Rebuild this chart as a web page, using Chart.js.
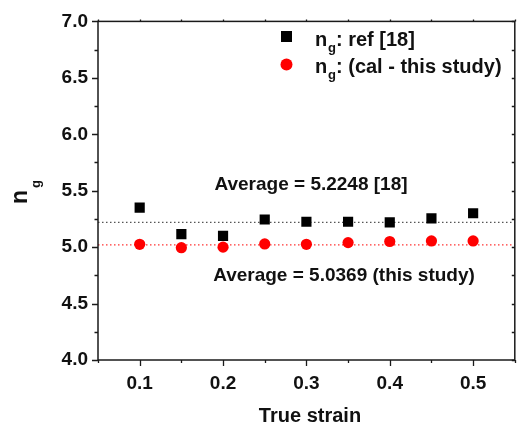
<!DOCTYPE html>
<html>
<head>
<meta charset="utf-8">
<script src="https://cdn.jsdelivr.net/npm/chart.js@4"></script>
<style>
  html,body{margin:0;padding:0;background:#fff;}
  #myChart{display:block;}
</style>
</head>
<body>
<canvas id="myChart" width="522" height="431"></canvas>
<script>
// values
var strain = [0.1, 0.15, 0.2, 0.25, 0.3, 0.35, 0.4, 0.45, 0.5];
var ngRef = [5.35, 5.115, 5.10, 5.245, 5.225, 5.225, 5.22, 5.255, 5.30];
var ngCal = [5.025, 4.995, 5.0, 5.028, 5.025, 5.04, 5.05, 5.055, 5.055];
var avgRef = 5.22;   // dotted line, labelled 5.2248
var avgCal = 5.02;   // dotted line, labelled 5.0369

var xTicks = [0.1, 0.2, 0.3, 0.4, 0.5];
var xMinor = [0.05, 0.15, 0.25, 0.35, 0.45, 0.55];
var yTicks = [4.0, 4.5, 5.0, 5.5, 6.0, 6.5, 7.0];
var yMinor = [4.25, 4.75, 5.25, 5.75, 6.25, 6.75];
var xRange = [0.05, 0.55];
var yRange = [4.0, 7.0];

var legendLabels = [": ref [18]", ": (cal - this study)"];
var noteRef = "Average = 5.2248 [18]";
var noteCal = "Average = 5.0369 (this study)";
var xTitle = "True strain";

var FONT = "'Liberation Sans', Arial, sans-serif";

function toPts(xs, ys){
  var out = [];
  for(var i=0; i<xs.length; i++){
    out.push({x: xs[i], y: ys[i]});
  }
  return out;
}

// frame, tick marks and all the extra text (subscripts)
var decor = {
  id: 'decor',
  afterDraw: function(chart){
    var c = chart.ctx;
    var a = chart.chartArea;
    var xs = chart.scales.x, ys = chart.scales.y;
    c.save();
    c.strokeStyle = '#1a1a1a';
    c.lineWidth = 1.5;
    c.strokeRect(a.left, a.top, a.right - a.left, a.bottom - a.top);

    c.lineWidth = 1.3;
    c.beginPath();
    xTicks.forEach(function(v){
      var p = Math.round(xs.getPixelForValue(v)) + 0.5;
      c.moveTo(p, a.bottom); c.lineTo(p, a.bottom + 6);
      c.moveTo(p, a.top); c.lineTo(p, a.top - 2);
    });
    xMinor.forEach(function(v){
      var p = Math.round(xs.getPixelForValue(v)) + 0.5;
      c.moveTo(p, a.bottom); c.lineTo(p, a.bottom + 3);
      c.moveTo(p, a.top); c.lineTo(p, a.top - 2);
    });
    yTicks.forEach(function(v){
      var p = Math.round(ys.getPixelForValue(v)) + 0.5;
      c.moveTo(a.left, p); c.lineTo(a.left - 6, p);
      c.moveTo(a.right, p); c.lineTo(a.right - 3, p);
    });
    yMinor.forEach(function(v){
      var p = Math.round(ys.getPixelForValue(v)) + 0.5;
      c.moveTo(a.left, p); c.lineTo(a.left - 3.5, p);
      c.moveTo(a.right, p); c.lineTo(a.right - 3, p);
    });
    c.stroke();

    c.fillStyle = '#111';
    c.textBaseline = 'alphabetic';

    // x axis title
    c.font = 'bold 20px ' + FONT;
    c.textAlign = 'center';
    c.fillText(xTitle, 310, 422);

    // y axis title n_g, rotated
    c.save();
    c.translate(27, 204);
    c.rotate(-Math.PI/2);
    c.textAlign = 'left';
    c.font = 'bold 23px ' + FONT;
    c.fillText('n', 0, 0);
    c.font = 'bold 13px ' + FONT;
    c.fillText('g', 16, 13);
    c.restore();

    // legend
    c.fillStyle = '#000';
    c.fillRect(281, 31, 11, 11);
    c.fillStyle = '#ff0000';
    c.beginPath();
    c.arc(286.5, 64.5, 6, 0, Math.PI*2);
    c.fill();
    c.fillStyle = '#111';
    c.textAlign = 'left';
    var base = [46, 73];
    for(var i=0; i<2; i++){
      c.font = 'bold 20px ' + FONT;
      c.fillText('n', 315, base[i]);
      c.font = 'bold 13px ' + FONT;
      c.fillText('g', 328, base[i] + 6);
      c.font = 'bold 20px ' + FONT;
      c.fillText(legendLabels[i], 336, base[i]);
    }

    // average notes
    c.font = 'bold 19px ' + FONT;
    c.textAlign = 'center';
    c.textBaseline = 'middle';
    c.fillText(noteRef, 311, 185);
    c.fillText(noteCal, 344, 276);
    c.restore();
  }
};

var ctx = document.getElementById('myChart');
var myChart = new Chart(ctx, {
  type: 'scatter',
  data: {
    datasets: [
      {
        label: 'ref',
        data: toPts(strain, ngRef),
        pointStyle: 'rect',
        pointRadius: 7.2,
        backgroundColor: '#000',
        borderColor: '#000',
        borderWidth: 0,
        order: 1
      },
      {
        label: 'cal',
        data: toPts(strain, ngCal),
        pointStyle: 'circle',
        pointRadius: 5.6,
        backgroundColor: '#ff0000',
        borderColor: '#ff0000',
        borderWidth: 0,
        order: 1
      },
      {
        type: 'line',
        label: 'avg ref',
        data: toPts(xRange, [avgRef, avgRef]),
        borderColor: '#555',
        borderWidth: 1.3,
        borderDash: [1.5, 2.5],
        pointRadius: 0,
        order: 3
      },
      {
        type: 'line',
        label: 'avg cal',
        data: toPts(xRange, [avgCal, avgCal]),
        borderColor: '#ff3333',
        borderWidth: 1.3,
        borderDash: [1.5, 2.5],
        pointRadius: 0,
        order: 3
      }
    ]
  },
  options: {
    responsive: false,
    devicePixelRatio: 1,
    animation: false,
    layout: { padding: { top: 17, right: 2, left: 0, bottom: 0 } },
    plugins: {
      legend: { display: false },
      tooltip: { enabled: false }
    },
    scales: {
      x: {
        type: 'linear',
        min: xRange[0],
        max: xRange[1],
        grid: { display: false, drawTicks: false },
        border: { display: false },
        afterBuildTicks: function(s){
          s.ticks = xTicks.map(function(v){ return {value: v}; });
        },
        afterFit: function(s){ s.height = 71; },
        ticks: {
          padding: 12,
          color: '#111',
          font: { family: FONT, size: 19, weight: 'bold' },
          callback: function(v){ return v.toFixed(1); }
        }
      },
      y: {
        min: yRange[0],
        max: yRange[1],
        grid: { display: false, drawTicks: false },
        border: { display: false },
        afterBuildTicks: function(s){
          s.ticks = yTicks.map(function(v){ return {value: v}; });
        },
        afterFit: function(s){ s.width = 98; },
        ticks: {
          padding: 10,
          color: '#111',
          font: { family: FONT, size: 19, weight: 'bold' },
          callback: function(v){ return v.toFixed(1); }
        }
      }
    }
  },
  plugins: [decor]
});
</script>
</body>
</html>
